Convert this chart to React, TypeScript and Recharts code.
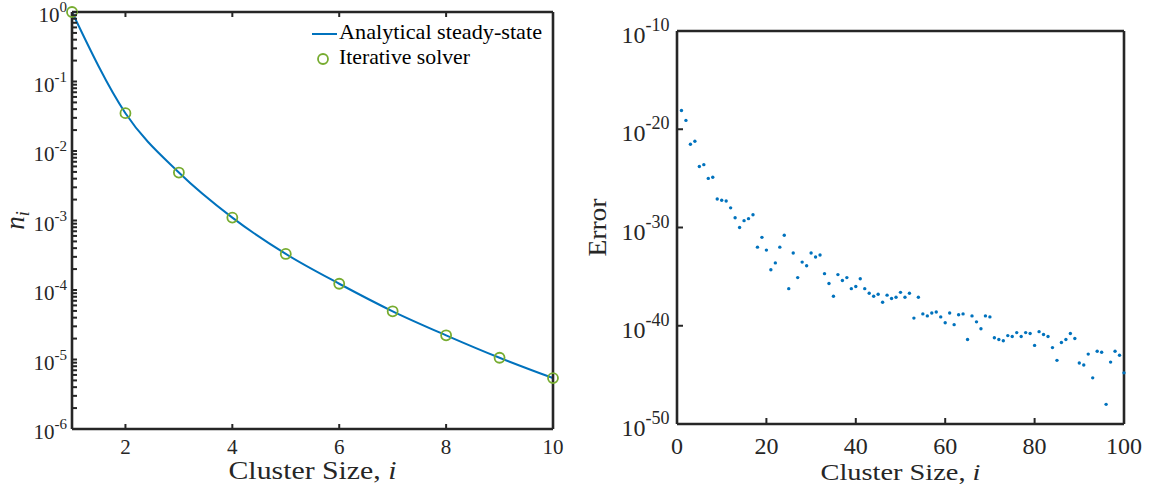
import React from 'react';
import { ComposedChart, ScatterChart, Line, Scatter, XAxis, YAxis, Legend, Label } from 'recharts';

// ---------- Left panel data ----------
const clusterSizes = [1, 2, 3, 4, 5, 6, 7, 8, 9, 10];
const analyticalN = [1, 0.035, 0.0049, 0.0011, 0.00033, 0.000123, 0.0000494, 0.0000223, 0.0000106, 0.0000054];
const iterativeN = [1, 0.035, 0.0049, 0.0011, 0.00033, 0.000123, 0.0000494, 0.0000223, 0.0000106, 0.0000054];
const leftXTicks = [2, 4, 6, 8, 10];
const leftYDecades = [1e-6, 1e-5, 1e-4, 1e-3, 1e-2, 1e-1, 1];
const minorMultipliers = [2, 3, 4, 5, 6, 7, 8, 9];

// ---------- Right panel data ----------
const errSizes = [
  1, 2, 3, 4, 5, 6, 7, 8, 9, 10, 11, 12, 13, 14, 15, 16, 17, 18, 19, 20,
  21, 22, 23, 24, 25, 26, 27, 28, 29, 30, 31, 32, 33, 34, 35, 36, 37, 38, 39, 40,
  41, 42, 43, 44, 45, 46, 47, 48, 49, 50, 51, 52, 53, 54, 55, 56, 57, 58, 59, 60,
  61, 62, 63, 64, 65, 66, 67, 68, 69, 70, 71, 72, 73, 74, 75, 76, 77, 78, 79, 80,
  81, 82, 83, 84, 85, 86, 87, 88, 89, 90, 91, 92, 93, 94, 95, 96, 97, 98, 99, 100,
];
const errValues = [
  8e-19, 8e-20, 3e-22, 6e-22, 1.6e-24, 2.5e-24, 1e-25, 1.3e-25, 8e-28, 6e-28,
  5e-28, 1e-28, 1e-29, 1e-30, 5e-30, 8e-30, 2e-29, 1e-32, 1e-31, 5e-33,
  5e-35, 2.5e-34, 1e-32, 1.6e-31, 6e-37, 2.5e-33, 8e-36, 3e-34, 1.3e-34, 2.5e-33,
  1e-33, 1.6e-33, 2e-35, 2e-36, 1e-37, 1.6e-35, 4e-36, 8e-36, 6e-37, 1e-36,
  6e-36, 6e-37, 2e-37, 1e-37, 1.6e-37, 2.5e-38, 1.3e-37, 6e-38, 8e-38, 2.5e-37,
  8e-38, 2e-37, 6e-40, 8e-38, 1.6e-39, 1e-39, 2e-39, 2.5e-39, 8e-40, 2e-40,
  2e-39, 1.3e-40, 1.3e-39, 1.6e-39, 4e-42, 1e-39, 2.5e-40, 5e-41, 1e-39, 8e-40,
  6e-42, 4e-42, 3e-42, 1e-41, 8e-42, 2e-41, 8e-42, 2e-41, 1.6e-41, 1e-42,
  2.5e-41, 1.3e-41, 8e-42, 6e-43, 3e-44, 2e-42, 4e-42, 1.6e-41, 5e-42, 1.6e-44,
  1e-44, 1.3e-43, 5e-46, 2.5e-43, 2e-43, 1e-48, 2e-44, 2.5e-43, 1e-43, 1.6e-45,
];
const rightXTicks = [0, 20, 40, 60, 80, 100];
const rightYTicks = [1e-50, 1e-40, 1e-30, 1e-20, 1e-10];

// ---------- derived tables ----------
const leftData = clusterSizes.map((c, k) => ({ i: c, analytical: analyticalN[k], iterative: iterativeN[k] }));
const leftYTicks: number[] = [];
leftYDecades.forEach((d, k) => {
  leftYTicks.push(d);
  if (k < leftYDecades.length - 1) minorMultipliers.forEach((m) => leftYTicks.push(d * m));
});
const rightData = errSizes.map((c, k) => ({ i: c, err: errValues[k] }));

const AXIS = '#262626';
const BLUE = '#0072BD';
const GREEN = '#77AC30';
const SERIF = '"Liberation Serif", "Times New Roman", serif';
const TICK_W = 2;
const TICK_C = AXIS;

const isPow10 = (v: number) => {
  const e = Math.log10(v);
  return Math.abs(e - Math.round(e)) < 1e-6;
};

const makeLeftYTick = (len: number, gap: number, fs: number, sfs: number, base: number, sup: number) => (props: any) => {
  const { x, y, payload } = props;
  const v = payload.value;
  const pow = isPow10(v);
  const e = Math.round(Math.log10(v));
  return (
    <g>
      <path d={`M${x},${y}H${x + len}`} stroke={TICK_C} strokeWidth={TICK_W} fill="none" />
      {pow ? (
        <text x={x - gap} y={y + base} textAnchor="end" fontFamily={SERIF} fontSize={fs} fill={AXIS}>
          <tspan>10</tspan>
          <tspan fontSize={sfs} dy={sup}>{String(e)}</tspan>
        </text>
      ) : null}
    </g>
  );
};

const makeRightYTick = (len: number) => (props: any) => {
  const { x, y } = props;
  return <path d={`M${x},${y}H${x - len}`} stroke={TICK_C} strokeWidth={TICK_W} fill="none" />;
};

const makeBottomXTick = (len: number, fs: number, base: number) => (props: any) => {
  const { x, y, payload } = props;
  return (
    <g>
      <path d={`M${x},${y}V${y - len}`} stroke={TICK_C} strokeWidth={TICK_W} fill="none" />
      <text x={x} y={y + base} textAnchor="middle" fontFamily={SERIF} fontSize={fs} fill={AXIS}>
        {String(payload.value)}
      </text>
    </g>
  );
};

const makeTopXTick = (len: number) => (props: any) => {
  const { x, y } = props;
  return <path d={`M${x},${y}V${y + len}`} stroke={TICK_C} strokeWidth={TICK_W} fill="none" />;
};

const makeXLabel = (fs: number, base: number, len: number) => (props: any) => {
  const vb = props.viewBox || {};
  const cx = (vb.x || 0) + (vb.width || 0) / 2;
  const y = (vb.y || 0) + base;
  return (
    <text x={cx} y={y} textAnchor="middle" fontFamily={SERIF} fontSize={fs} fill={AXIS}
      textLength={len} lengthAdjust="spacingAndGlyphs">
      <tspan>Cluster Size, </tspan>
      <tspan fontStyle="italic">i</tspan>
    </text>
  );
};

const leftYLabel = (props: any) => {
  const vb = props.viewBox || {};
  const cx = 24;
  const cy = (vb.y || 0) + (vb.height || 0) / 2;
  return (
    <text x={cx} y={cy} transform={`rotate(-90, ${cx}, ${cy})`} textAnchor="middle"
      fontFamily={SERIF} fontSize={27} fontStyle="italic" fill={AXIS}>
      <tspan>n</tspan>
      <tspan fontSize={18} dy={5}>i</tspan>
    </text>
  );
};

const rightYLabel = (props: any) => {
  const vb = props.viewBox || {};
  const cx = 26;
  const cy = (vb.y || 0) + (vb.height || 0) / 2;
  return (
    <text x={cx} y={cy} transform={`rotate(-90, ${cx}, ${cy})`} textAnchor="middle"
      fontFamily={SERIF} fontSize={25} fill={AXIS} textLength={58} lengthAdjust="spacingAndGlyphs">
      Error
    </text>
  );
};

const LegendBox = () => (
  <svg width={265} height={56} style={{ display: 'block' }}>
    <line x1={22} x2={47} y1={16} y2={16} stroke={BLUE} strokeWidth={2} />
    <text x={49} y={21} fontFamily={SERIF} fontSize={21} fill="#000" textLength={203} lengthAdjust="spacingAndGlyphs">
      Analytical steady-state
    </text>
    <circle cx={33} cy={41} r={5} fill="none" stroke={GREEN} strokeWidth={1.8} />
    <text x={49} y={46} fontFamily={SERIF} fontSize={21} fill="#000" textLength={131} lengthAdjust="spacingAndGlyphs">
      Iterative solver
    </text>
  </svg>
);

const axisLine = { stroke: AXIS, strokeWidth: 2.6 };

const smallDot = (props: any) => {
  const { cx, cy } = props;
  if (cx == null || cy == null) return <g />;
  return <circle cx={cx} cy={cy} r={1.7} fill={BLUE} />;
};

export default function App() {
  return (
    <div style={{ position: 'absolute', left: 0, top: 0, width: 1156, height: 487, background: '#fff' }}>
      <div style={{ position: 'absolute', left: 0, top: 0, width: 580, height: 487 }}>
        <ComposedChart width={580} height={487} data={leftData} margin={{ top: 11, right: 26, bottom: 0, left: 0 }}>
          <XAxis xAxisId="b" dataKey="i" type="number" domain={[1, 10]} ticks={leftXTicks} interval={0}
            height={58} axisLine={axisLine} tickLine={false}
            tickSize={0} tickMargin={0} tick={makeBottomXTick(5, 21, 25)}>
            <Label content={makeXLabel(25, 50, 168)} />
          </XAxis>
          <XAxis xAxisId="t" orientation="top" dataKey="i" type="number" domain={[1, 10]} ticks={leftXTicks}
            interval={0} height={1} axisLine={axisLine}
            tickLine={false} tickSize={0} tickMargin={0} tick={makeTopXTick(5)} />
          <YAxis yAxisId="l" type="number" scale="log" domain={[1e-6, 1]} ticks={leftYTicks}
            interval={0} width={72} axisLine={axisLine} tickLine={false}
            tickSize={0} tickMargin={0} tick={makeLeftYTick(5, 5, 21, 15, 10, -10)}>
            <Label content={leftYLabel} />
          </YAxis>
          <YAxis yAxisId="r" orientation="right" type="number" scale="log" domain={[1e-6, 1]}
            ticks={leftYTicks} interval={0} width={1} axisLine={axisLine}
            tickLine={false} tickSize={0} tickMargin={0} tick={makeRightYTick(5)} />
          <Legend layout="horizontal" verticalAlign="middle" align="center" content={() => <LegendBox />}
            wrapperStyle={{ position: 'absolute', left: 290, top: 18, width: 265, height: 56 }} />
          <Line xAxisId="b" yAxisId="l" dataKey="analytical" type="monotone" stroke={BLUE} strokeWidth={2}
            dot={false} activeDot={false} isAnimationActive={false} />
          <Line xAxisId="b" yAxisId="l" dataKey="iterative" stroke="none" strokeWidth={0}
            dot={{ r: 5, stroke: GREEN, strokeWidth: 1.8, fill: 'none' }} activeDot={false} isAnimationActive={false} />
        </ComposedChart>
      </div>
      <div style={{ position: 'absolute', left: 580, top: 0, width: 576, height: 487 }}>
        <ScatterChart width={576} height={487} margin={{ top: 30, right: 31, bottom: 0, left: 0 }}>
          <XAxis xAxisId="b" dataKey="i" type="number" domain={[0, 100]} ticks={rightXTicks} interval={0}
            height={63} axisLine={axisLine} tickLine={false}
            tickSize={0} tickMargin={0} tick={makeBottomXTick(6, 24, 30)}>
            <Label content={makeXLabel(24, 56, 160)} />
          </XAxis>
          <XAxis xAxisId="t" orientation="top" dataKey="i" type="number" domain={[0, 100]} ticks={rightXTicks}
            interval={0} height={1} axisLine={axisLine}
            tickLine={false} tickSize={0} tickMargin={0} tick={makeTopXTick(6)} />
          <YAxis yAxisId="l" dataKey="err" type="number" scale="log" domain={[1e-50, 1e-10]}
            ticks={rightYTicks} interval={0} width={97} axisLine={axisLine}
            tickLine={false} tickSize={0} tickMargin={0} tick={makeLeftYTick(6, 7.5, 24, 18, 12, -12)}>
            <Label content={rightYLabel} />
          </YAxis>
          <YAxis yAxisId="r" orientation="right" type="number" scale="log" domain={[1e-50, 1e-10]}
            ticks={rightYTicks} interval={0} width={1} axisLine={axisLine}
            tickLine={false} tickSize={0} tickMargin={0} tick={makeRightYTick(6)} />
          <Scatter xAxisId="b" yAxisId="l" data={rightData} dataKey="err" fill={BLUE} shape={smallDot}
            isAnimationActive={false} />
        </ScatterChart>
      </div>
    </div>
  );
}
